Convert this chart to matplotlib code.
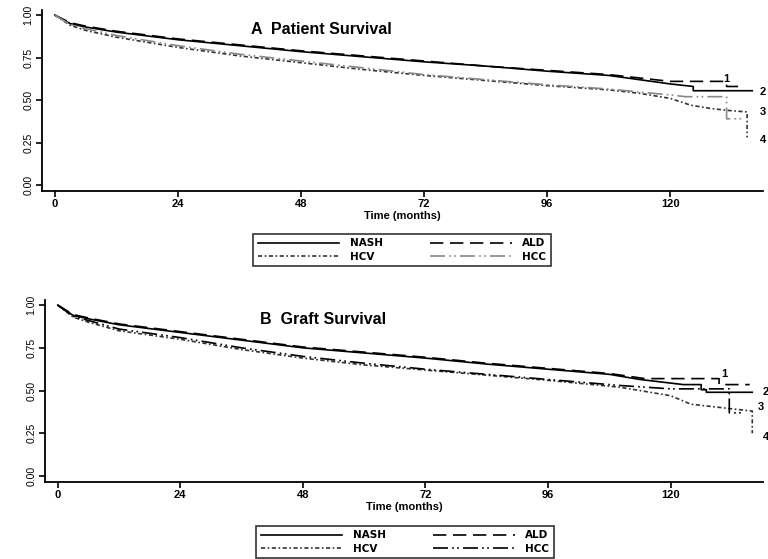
import matplotlib
matplotlib.use('Agg')
import matplotlib.pyplot as plt

plt.rcParams['font.family'] = ['Liberation Sans', 'DejaVu Sans']

# ---- A: patient survival (months, survival probability) ----
pat_nash_t = [0, 3, 6, 12, 24, 36, 48, 60, 72, 84, 96, 108, 114, 120, 124.5, 124.5, 136]
pat_nash_s = [1.0, 0.95, 0.93, 0.90, 0.855, 0.82, 0.785, 0.755, 0.725, 0.70, 0.67, 0.645, 0.62, 0.595, 0.58, 0.555, 0.555]
pat_ald_t = [0, 3, 6, 12, 24, 36, 48, 60, 72, 84, 96, 108, 114, 120, 131, 131, 134.5]
pat_ald_s = [1.0, 0.955, 0.935, 0.905, 0.86, 0.825, 0.79, 0.76, 0.73, 0.70, 0.675, 0.65, 0.63, 0.61, 0.61, 0.58, 0.58]
pat_hcv_t = [0, 3, 6, 12, 24, 36, 48, 60, 72, 84, 96, 108, 114, 120, 124, 128, 131, 135, 135]
pat_hcv_s = [1.0, 0.94, 0.91, 0.87, 0.81, 0.76, 0.72, 0.68, 0.645, 0.615, 0.585, 0.56, 0.54, 0.51, 0.47, 0.45, 0.44, 0.43, 0.28]
pat_hcc_t = [0, 3, 6, 12, 24, 36, 48, 60, 72, 84, 96, 108, 120, 123, 131, 131, 134]
pat_hcc_s = [1.0, 0.945, 0.92, 0.88, 0.82, 0.77, 0.73, 0.69, 0.65, 0.62, 0.59, 0.565, 0.53, 0.52, 0.52, 0.39, 0.39]

# ---- B: graft survival ----
gr_nash_t = [0, 3, 6, 12, 24, 36, 48, 60, 72, 84, 96, 108, 114, 122.5, 126, 126, 127, 127, 136]
gr_nash_s = [1.0, 0.94, 0.92, 0.885, 0.84, 0.795, 0.75, 0.72, 0.69, 0.655, 0.625, 0.595, 0.565, 0.535, 0.535, 0.505, 0.505, 0.49, 0.49]
gr_ald_t = [0, 3, 6, 12, 24, 36, 48, 60, 72, 84, 96, 108, 115, 129.5, 129.5, 135.5]
gr_ald_s = [1.0, 0.945, 0.925, 0.89, 0.845, 0.80, 0.755, 0.725, 0.695, 0.66, 0.63, 0.60, 0.57, 0.57, 0.535, 0.535]
gr_hcv_t = [0, 3, 6, 12, 24, 36, 48, 60, 72, 84, 96, 110, 116, 120, 124, 130, 136, 136]
gr_hcv_s = [1.0, 0.93, 0.90, 0.85, 0.80, 0.74, 0.69, 0.65, 0.62, 0.59, 0.56, 0.52, 0.49, 0.47, 0.42, 0.40, 0.38, 0.25]
gr_hcc_t = [0, 3, 6, 12, 24, 36, 48, 60, 72, 84, 96, 110, 120, 131.5, 131.5, 134]
gr_hcc_s = [1.0, 0.935, 0.91, 0.86, 0.81, 0.75, 0.70, 0.66, 0.625, 0.595, 0.565, 0.53, 0.51, 0.51, 0.37, 0.37]

groups = ['NASH', 'ALD', 'HCV', 'HCC']
end_labels = ['1', '2', '3', '4']
x_ticks = [0, 24, 48, 72, 96, 120]
y_ticks = [0.0, 0.25, 0.5, 0.75, 1.0]
y_ticklabels = ['0.00', '0.25', '0.50', '0.75', '1.00']

styles = {
    'NASH': dict(color='black', linestyle='-'),
    'ALD': dict(color='black', linestyle=(0, (8, 4))),
    'HCV': dict(color='#333333', linestyle=(0, (2.5, 1.5, 1, 1.5))),
    'HCC': dict(color='#555555', linestyle=(0, (9, 2.5, 1, 2, 1, 2.5))),
}


def panel(ax, curves, title, label_pos, leg_box, hcc_col):
    handles = {}
    for name, (t, s) in zip(groups, curves):
        st = dict(styles[name])
        if name == 'HCC':
            st['color'] = hcc_col
        h, = ax.plot(t, s, lw=1.2, **st)
        handles[name] = h
    ax.set_xlim(-2.5, 138.1)
    ax.set_ylim(-0.035, 1.03)
    ax.set_xticks(x_ticks)
    ax.set_yticks(y_ticks)
    ax.set_yticklabels(y_ticklabels, rotation=90, va='center', fontsize=7.5)
    for lab in ax.get_xticklabels():
        lab.set_fontweight('bold')
        lab.set_fontsize(8)
    ax.tick_params(axis='both', direction='out', length=4, width=1.2, pad=2)
    ax.spines['top'].set_visible(False)
    ax.spines['right'].set_visible(False)
    ax.spines['left'].set_linewidth(1.3)
    ax.spines['bottom'].set_linewidth(1.3)
    ax.set_xlabel('Time (months)', fontsize=8, fontweight='bold', labelpad=1)
    ax.text(52, 0.915, title, ha='center', va='center', fontsize=11.5, fontweight='bold')
    for lab, (x, y) in zip(end_labels, label_pos):
        ax.text(x, y, lab, fontsize=8, fontweight='bold', ha='left', va='center', clip_on=False)
    # row-wise legend order: NASH ALD / HCV HCC
    order = ['NASH', 'HCV', 'ALD', 'HCC']
    leg = ax.figure.legend([handles[n] for n in order], order, loc='center', bbox_to_anchor=leg_box,
                           ncol=2, handlelength=7.8, columnspacing=4.6, handletextpad=1.0,
                           frameon=True, fancybox=False, edgecolor='black', borderpad=0.45,
                           borderaxespad=0, labelspacing=0.3,
                           prop=dict(family='DejaVu Sans', weight='bold', size=7.5))
    leg.get_frame().set_linewidth(1.2)


fig = plt.figure(figsize=(7.68, 5.59), dpi=100)
ax1 = fig.add_axes([42 / 768, 1 - 191 / 559, 721 / 768, 181 / 559])
ax2 = fig.add_axes([45 / 768, 1 - 482 / 559, 718 / 768, 182 / 559])

panel(ax1,
      [(pat_nash_t, pat_nash_s), (pat_ald_t, pat_ald_s), (pat_hcv_t, pat_hcv_s), (pat_hcc_t, pat_hcc_s)],
      'A  Patient Survival',
      [(130.3, 0.625), (137.5, 0.545), (137.5, 0.43), (137.5, 0.265)],
      (402 / 768, 1 - 250 / 559), '#888888')
panel(ax2,
      [(gr_nash_t, gr_nash_s), (gr_ald_t, gr_ald_s), (gr_hcv_t, gr_hcv_s), (gr_hcc_t, gr_hcc_s)],
      'B  Graft Survival',
      [(130, 0.595), (138, 0.49), (137, 0.405), (138, 0.23)],
      (405 / 768, 1 - 542 / 559), 'black')

fig.savefig('out.png', dpi=100)
